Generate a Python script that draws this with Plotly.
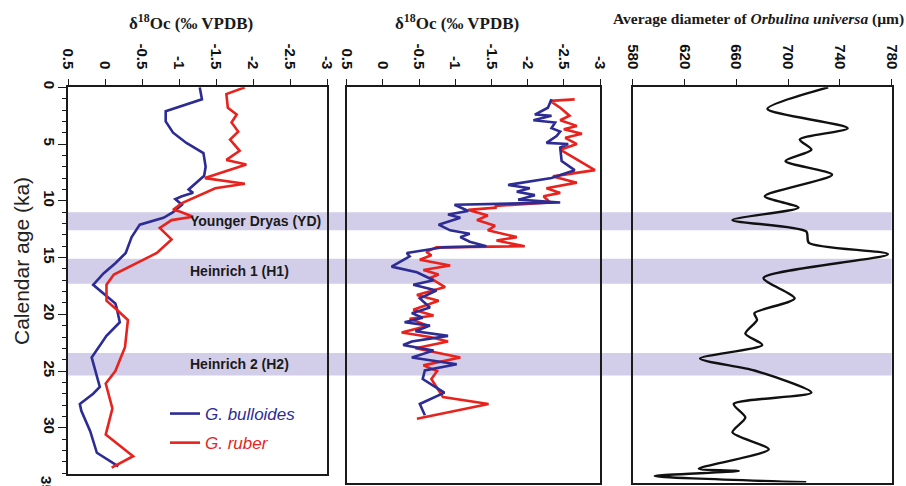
import plotly.graph_objects as go

# ---------------- data ----------------
# Panel 1 (left): delta18O, G. bulloides / G. ruber (‰ VPDB) vs age (ka)
age_bul_1 = [0, 1.06, 2.1, 3.0, 4.0, 4.9, 5.8, 7.0, 7.8, 9.0, 9.3, 9.6, 9.85, 10.35, 11.0, 11.5,
             12.1, 13.2, 14.6, 15.5, 16.4, 17.4, 19.05, 19.5, 20.7, 21.9, 23.8, 26.4, 27.0, 27.9,
             28.5, 30.3, 32.2, 33.4]
d18_bul_1 = [-1.28, -1.31, -0.82, -0.82, -0.92, -1.10, -1.33, -1.36, -1.34, -1.13, -1.19, -1.04,
             -0.95, -1.04, -0.92, -0.79, -0.47, -0.36, -0.28, -0.14, 0.02, 0.16, -0.14, -0.16,
             -0.20, -0.02, 0.18, 0.07, 0.16, 0.34, 0.32, 0.20, 0.11, -0.18]
age_rub_1 = [0, 0.6, 1.8, 2.4, 3.1, 3.9, 4.6, 5.6, 6.4, 6.8, 8.0, 8.5, 8.9, 10.2, 10.8, 10.95,
             11.4, 11.7, 12.4, 13.4, 14.6, 15.8, 16.5, 17.4, 18.8, 19.6, 20.5, 22.9, 25.0, 26.1,
             28.3, 30.6, 32.5, 33.5]
d18_rub_1 = [-1.89, -1.64, -1.66, -1.78, -1.71, -1.80, -1.69, -1.82, -1.64, -1.91, -1.35, -1.89,
             -1.49, -1.04, -0.92, -1.01, -1.19, -0.90, -0.74, -0.90, -0.70, -0.34, -0.12, -0.02,
             -0.02, -0.16, -0.31, -0.27, -0.14, -0.01, -0.10, -0.01, -0.38, -0.09]

# Panel 2 (middle): delta18O, second record
age_bul_2 = [1.06, 1.8, 2.4, 2.5, 2.9, 3.1, 3.6, 3.9, 4.3, 4.9, 5.0, 5.3, 6.5, 7.3, 8.0, 8.6,
             8.9, 9.2, 9.5, 9.9, 10.15, 10.35, 10.9, 11.2, 11.5, 12.1, 12.6, 12.9, 13.2, 13.6,
             14.0, 14.1, 14.6, 14.9, 15.8, 16.3, 17.0, 17.4, 17.9, 18.6, 19.4, 19.9, 20.3, 20.7,
             21.0, 21.5, 21.9, 22.4, 22.7, 23.2, 23.8, 24.4, 24.95, 25.7, 26.3, 26.9, 27.9, 28.9]
d18_bul_2 = [-2.33, -2.28, -2.10, -2.33, -2.08, -2.38, -2.33, -2.45, -2.40, -2.26, -2.56, -2.45,
             -2.47, -2.65, -2.33, -1.73, -2.03, -1.85, -2.10, -1.87, -2.45, -0.99, -1.18, -0.90,
             -1.07, -0.77, -0.93, -1.20, -1.07, -1.20, -1.43, -0.83, -0.33, -0.37, -0.12, -0.47,
             -0.70, -0.42, -0.74, -0.51, -0.65, -0.40, -0.55, -0.30, -0.65, -0.45, -0.90, -0.40,
             -0.28, -0.70, -0.40, -1.02, -0.58, -0.55, -0.70, -0.85, -0.51, -0.58]
age_rub_2 = [1.06, 1.2, 1.8, 2.5, 2.9, 3.4, 3.7, 4.1, 4.45, 5.0, 5.5, 7.3, 7.85, 8.4, 8.9, 9.3,
             9.6, 10.15, 10.45, 10.6, 10.8, 11.3, 11.7, 12.2, 12.6, 13.2, 13.5, 14.0, 14.1, 14.5,
             14.8, 15.2, 15.7, 16.1, 16.5, 16.8, 17.6, 18.3, 18.8, 19.6, 20.1, 20.4, 21.0, 21.6,
             22.0, 22.4, 23.0, 23.8, 24.5, 25.0, 25.7, 26.5, 27.3, 27.9, 29.2]
d18_rub_2 = [-2.65, -2.31, -2.45, -2.58, -2.45, -2.68, -2.50, -2.75, -2.52, -2.68, -2.45, -2.93,
             -2.35, -2.68, -2.26, -2.45, -2.22, -2.31, -1.55, -1.57, -1.18, -1.45, -1.30, -1.55,
             -1.45, -1.85, -1.57, -1.96, -0.74, -0.60, -0.67, -0.51, -0.93, -0.56, -0.77, -0.65,
             -0.86, -0.47, -0.77, -0.42, -0.70, -0.37, -0.62, -0.26, -0.65, -0.90, -0.45, -1.07,
             -0.56, -0.75, -0.67, -0.75, -0.83, -1.46, -0.47]

# Panel 3 (right): average diameter of Orbulina universa (µm)
age_orb = [0, 1.9, 3.6, 4.6, 5.5, 6.5, 7.7, 9.6, 10.6, 11.7, 12.7, 13.7, 14.7, 16.8, 18.6, 19.9,
           20.5, 21.7, 22.7, 23.9, 24.95, 26.9, 27.9, 29.1, 30.4, 31.9, 33.6, 33.8, 34.25, 34.8]
diam_orb = [731, 684, 746, 709, 718, 698, 734, 682, 708, 657, 714, 716, 777, 681, 705, 674,
            676, 667, 680, 632, 674, 718, 658, 667, 657, 685, 631, 662, 597, 714]

# Climatic events (ka)
event_names = ["Younger Dryas (YD)", "Heinrich 1 (H1)", "Heinrich 2 (H2)"]
event_start = [11.0, 15.1, 23.4]
event_end = [12.6, 17.3, 25.4]

d18_ticks = [0.5, 0, -0.5, -1, -1.5, -2, -2.5, -3]
d18_ticktext = ["0.5", "0", "-0.5", "-1", "-1.5", "-2", "-2.5", "-3"]
diam_ticks = [580, 620, 660, 700, 740, 780]
age_ticks = [0, 5, 10, 15, 20, 25, 30, 35]

# ---------------- styling ----------------
W, H = 906, 486
BLUE = "#2D2C94"
RED = "#E8231E"
BAND = "#D2CEEA"
AX = "#1a1a1a"
px_per_ka = 11.35
top_px = 87.3

def fx(p):
    return p / W

def fy(p):
    return 1 - p / H

x1_dom = [fx(68), fx(327)]
x2_dom = [fx(346.7), fx(600)]
x3_dom = [fx(632.7), fx(891.7)]
bot1, bot23 = 474.0, 482.5
y1_dom = [fy(bot1), fy(top_px)]
y23_dom = [fy(bot23), fy(top_px)]
y1_range = [(bot1 - top_px) / px_per_ka, 0]
y23_range = [(bot23 - top_px) / px_per_ka, 0]

tickfont = dict(family="Liberation Sans, Arial, sans-serif", size=15, color="#111", weight="bold")

fig = go.Figure()

fig.add_trace(go.Scatter(x=d18_bul_1, y=age_bul_1, mode="lines", xaxis="x", yaxis="y",
                         line=dict(color=BLUE, width=2.6), legendgroup="a",
                         name=f"<i><span style='color:{BLUE}'>G. bulloides</span></i>"))
fig.add_trace(go.Scatter(x=d18_rub_1, y=age_rub_1, mode="lines", xaxis="x", yaxis="y",
                         line=dict(color=RED, width=2.6), legendgroup="b",
                         name=f"<i><span style='color:{RED}'>G. ruber</span></i>"))
fig.add_trace(go.Scatter(x=d18_rub_2, y=age_rub_2, mode="lines", xaxis="x2", yaxis="y2",
                         line=dict(color=RED, width=2.6), showlegend=False))
fig.add_trace(go.Scatter(x=d18_bul_2, y=age_bul_2, mode="lines", xaxis="x2", yaxis="y2",
                         line=dict(color=BLUE, width=2.6), showlegend=False))
fig.add_trace(go.Scatter(x=diam_orb, y=age_orb, mode="lines", xaxis="x3", yaxis="y3",
                         line=dict(color="#111", width=2.4, shape="spline", smoothing=0.7),
                         showlegend=False))

xcommon = dict(side="top", showline=True, linecolor=AX, linewidth=1.6, mirror=True,
               ticks="outside", ticklen=7, tickwidth=1.4, tickcolor=AX, tickangle=90,
               tickfont=tickfont, showgrid=False, zeroline=False, automargin=False,
               ticklabelstandoff=4)
fig.update_layout(
    xaxis=dict(domain=x1_dom, range=[0.5, -3], anchor="y", tickvals=d18_ticks,
               ticktext=d18_ticktext, **xcommon),
    xaxis2=dict(domain=x2_dom, range=[0.5, -3], anchor="y2", tickvals=d18_ticks,
                ticktext=d18_ticktext, **xcommon),
    xaxis3=dict(domain=x3_dom, range=[580, 780], anchor="y3", tickvals=diam_ticks, **xcommon),
    yaxis=dict(domain=y1_dom, range=y1_range, anchor="x", showline=True, linecolor=AX,
               linewidth=1.6, mirror=True, ticks="outside", ticklen=8, tickwidth=1.4,
               tickcolor=AX, tickvals=age_ticks, tickangle=90, tickfont=tickfont,
               minor=dict(dtick=1, tick0=0, ticks="outside", ticklen=4, tickwidth=1.2,
                          tickcolor=AX),
               showgrid=False, zeroline=False, automargin=False, ticklabelstandoff=-4),
    yaxis2=dict(domain=y23_dom, range=y23_range, anchor="x2", showline=True, linecolor=AX,
                linewidth=1.6, mirror=True, ticks="", showticklabels=False, showgrid=False,
                zeroline=False, automargin=False),
    yaxis3=dict(domain=y23_dom, range=y23_range, anchor="x3", showline=True, linecolor=AX,
                linewidth=1.6, mirror=True, ticks="", showticklabels=False, showgrid=False,
                zeroline=False, automargin=False),
    width=W, height=H, margin=dict(l=0, r=0, t=0, b=0),
    paper_bgcolor="white", plot_bgcolor="rgba(0,0,0,0)",
    showlegend=True,
    legend=dict(x=fx(165), y=fy(396), xanchor="left", yanchor="top",
                bgcolor="rgba(0,0,0,0)", tracegroupgap=4,
                font=dict(family="Liberation Sans, Arial, sans-serif", size=17, color="#111")),
)

# event bands and labels
for name, s, e in zip(event_names, event_start, event_end):
    fig.add_shape(type="rect", xref="paper", yref="y2", x0=x1_dom[0], x1=x3_dom[1],
                  y0=s, y1=e, fillcolor=BAND, line=dict(width=0), layer="below")
    fig.add_annotation(text=f"<b>{name}</b>", xref="paper", yref="y2", x=fx(188),
                       y=(s + e) / 2, xanchor="left", yanchor="middle", showarrow=False,
                       font=dict(family="Liberation Sans, Arial, sans-serif", size=14,
                                 color="#1a1a1a"))

# partially visible "35" tick label at the bottom of the age axis
fig.add_annotation(text="<b>35</b>", xref="paper", yref="paper", x=fx(46.5),
                   y=fy(top_px + 35 * px_per_ka), textangle=90, showarrow=False,
                   xanchor="center", yanchor="middle", font=tickfont)

# titles
title_font = dict(family="Liberation Serif, Times New Roman, serif", size=17, color="#1a1a1a")
fig.add_annotation(text="<b>δ<sup>18</sup>Oc (‰ VPDB)</b>", xref="paper", yref="paper",
                   x=fx(191), y=fy(22), showarrow=False, xanchor="center", yanchor="middle",
                   font=title_font)
fig.add_annotation(text="<b>δ<sup>18</sup>Oc (‰ VPDB)</b>", xref="paper", yref="paper",
                   x=fx(457), y=fy(22), showarrow=False, xanchor="center", yanchor="middle",
                   font=title_font)
fig.add_annotation(text="<b>Average diameter of <i>Orbulina universa</i> (µm)</b>",
                   xref="paper", yref="paper", x=fx(758), y=fy(19), showarrow=False,
                   xanchor="center", yanchor="middle",
                   font=dict(family="Liberation Serif, Times New Roman, serif", size=15.5,
                             color="#1a1a1a"))
fig.add_annotation(text="Calendar age (ka)", xref="paper", yref="paper", x=fx(21),
                   y=fy(261), textangle=-90, showarrow=False, xanchor="center",
                   yanchor="middle",
                   font=dict(family="Liberation Sans, Arial, sans-serif", size=21, color="#222"))

fig.write_html("out.html")
